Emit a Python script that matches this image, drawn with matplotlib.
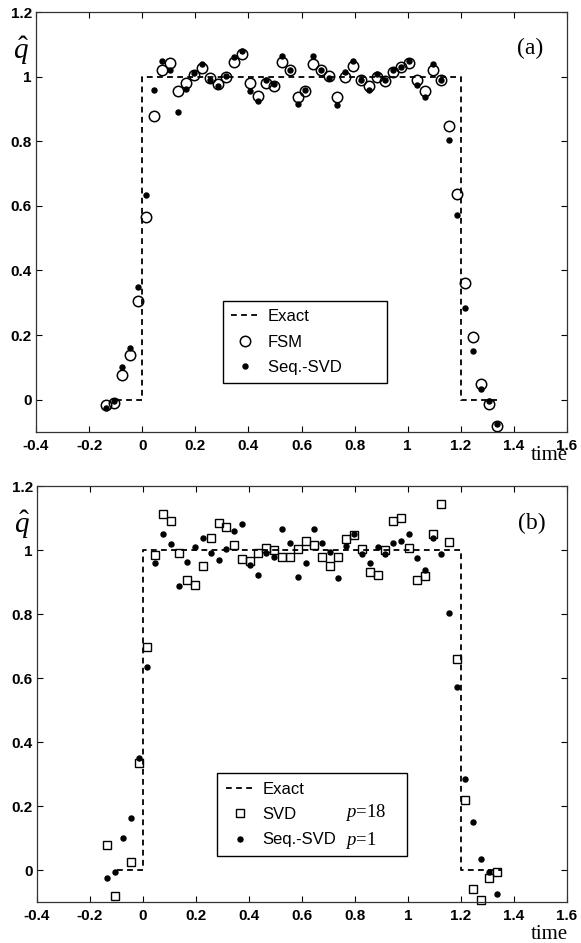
import numpy as np
import matplotlib
matplotlib.use("Agg")
import matplotlib.pyplot as plt
from matplotlib.lines import Line2D

plt.rcParams['font.family'] = ['Liberation Sans', 'DejaVu Sans']
plt.rcParams['mathtext.fontset'] = 'custom'
plt.rcParams['mathtext.rm'] = 'Liberation Serif'
plt.rcParams['mathtext.it'] = 'Liberation Serif:italic'

# ---- data ----
time = [-0.135, -0.105, -0.075, -0.045, -0.015, 0.015, 0.045, 0.075, 0.105, 0.135,
        0.165, 0.195, 0.225, 0.255, 0.285, 0.315, 0.345, 0.375, 0.405, 0.435,
        0.465, 0.495, 0.525, 0.555, 0.585, 0.615, 0.645, 0.675, 0.705, 0.735,
        0.765, 0.795, 0.825, 0.855, 0.885, 0.915, 0.945, 0.975, 1.005, 1.035,
        1.065, 1.095, 1.125, 1.155, 1.185, 1.215, 1.245, 1.275, 1.305, 1.335]

fsm = [-0.017, -0.010, 0.076, 0.139, 0.306, 0.564, 0.877, 1.019, 1.042, 0.957,
       0.981, 1.006, 1.027, 0.996, 0.977, 0.998, 1.044, 1.070, 0.979, 0.941,
       0.979, 0.972, 1.044, 1.022, 0.938, 0.957, 1.039, 1.022, 1.003, 0.936,
       1.000, 1.032, 0.991, 0.971, 1.000, 0.985, 1.013, 1.029, 1.042, 0.988,
       0.957, 1.022, 0.988, 0.847, 0.638, 0.360, 0.193, 0.048, -0.013, -0.082]

seq_svd = [-0.026, -0.005, 0.101, 0.161, 0.350, 0.633, 0.959, 1.049, 1.019, 0.889,
           0.962, 1.010, 1.039, 0.990, 0.970, 1.003, 1.060, 1.080, 0.954, 0.923,
           0.991, 0.977, 1.065, 1.022, 0.916, 0.960, 1.065, 1.022, 0.995, 0.913,
           1.013, 1.049, 0.988, 0.959, 1.008, 0.988, 1.022, 1.029, 1.049, 0.975,
           0.938, 1.039, 0.988, 0.804, 0.573, 0.283, 0.151, 0.034, -0.005, -0.074]

svd = [0.079, -0.082, np.nan, 0.024, 0.333, 0.697, 0.983, 1.112, 1.091, 0.990,
       0.907, 0.891, 0.951, 1.038, 1.085, 1.071, 1.016, 0.971, 0.967, 0.990,
       1.007, 1.000, 0.977, 0.977, 1.003, 1.029, 1.016, 0.977, 0.950, 0.979,
       1.033, 1.047, 1.002, 0.932, 0.922, 1.000, 1.091, 1.099, 1.007, 0.907,
       0.919, 1.050, 1.143, 1.024, 0.659, 0.219, -0.059, -0.093, -0.025, -0.005]

exact_t = [-0.1, 0.0, 0.0, 1.2, 1.2, 1.35]
exact_q = [0.0, 0.0, 1.0, 1.0, 0.0, 0.0]

xticks = [-0.4, -0.2, 0, 0.2, 0.4, 0.6, 0.8, 1, 1.2, 1.4, 1.6]
xticklabels = ['-0.4', '-0.2', '0', '0.2', '0.4', '0.6', '0.8', '1', '1.2', '1.4', '1.6']
yticks = [0, 0.2, 0.4, 0.6, 0.8, 1, 1.2]
yticklabels = ['0', '0.2', '0.4', '0.6', '0.8', '1', '1.2']

W, H = 581, 943
fig = plt.figure(figsize=(W / 100, H / 100), dpi=100)

def px_axes(l, t, r, b):
    return fig.add_axes([l / W, 1 - b / H, (r - l) / W, (b - t) / H])

ax1 = px_axes(36, 12, 567, 432)
ax2 = px_axes(37, 486, 567, 902)

dash = dict(color='black', lw=1.3, linestyle=(0, (3.2, 2.4)))

def style(ax, panel, pxy, time_y):
    ax.set_xlim(-0.4, 1.6)
    ax.set_ylim(-0.1, 1.2)
    ax.set_xticks(xticks)
    ax.set_xticklabels(xticklabels, fontsize=11, fontweight='bold')
    ax.set_yticks(yticks)
    ax.set_yticklabels(yticklabels, fontsize=11, fontweight='bold')
    ax.tick_params(direction='in', length=4, width=0.8, top=True, right=True)
    ax.tick_params(axis='x', pad=5)
    ax.tick_params(axis='y', pad=3)
    for s in ax.spines.values():
        s.set_linewidth(0.9)
        s.set_color('#333333')
    ax.text(pxy[0], pxy[1], panel, transform=ax.transAxes, fontsize=17,
            family='Liberation Serif', ha='center', va='center')
    ax.text(-0.457, 1.078, r'$\hat{q}$', fontsize=21, ha='center', va='center',
            clip_on=False)
    ax.text(1.002, time_y, 'time', transform=ax.transAxes, fontsize=15,
            family='Liberation Serif', ha='right', va='top')

leg_kw = dict(loc='lower left', borderaxespad=0, fontsize=12, fancybox=False,
              edgecolor='black', framealpha=1, handlelength=1.7,
              handletextpad=0.5, labelspacing=0.62, borderpad=0.5)

# panel (a)
ax1.plot(exact_t, exact_q, **dash)
ax1.plot(time, fsm, 'o', mfc='none', mec='black', mew=1.1, ms=7.5, clip_on=False)
ax1.plot(time, seq_svd, 'o', color='black', ms=3.6, clip_on=False)
style(ax1, '(a)', (0.93, 0.914), -0.033)
h1 = [Line2D([], [], **dash),
      Line2D([], [], marker='o', ls='none', mfc='none', mec='black', mew=1.1, ms=7.5),
      Line2D([], [], marker='o', ls='none', color='black', ms=3.6)]
leg1 = ax1.legend(h1, ['Exact', 'FSM', 'Seq.-SVD        '],
                  bbox_to_anchor=(0.352, 0.116), **leg_kw)
leg1.get_frame().set_linewidth(1.0)

# panel (b)
ax2.plot(exact_t, exact_q, **dash)
ax2.plot(time, svd, 's', mfc='none', mec='black', mew=1.0, ms=5.6, clip_on=False)
ax2.plot(time, seq_svd, 'o', color='black', ms=3.6, clip_on=False)
style(ax2, '(b)', (0.933, 0.911), -0.055)
blank = Line2D([], [], ls='none')
h2 = [Line2D([], [], **dash),
      Line2D([], [], marker='s', ls='none', mfc='none', mec='black', mew=1.0, ms=5.6),
      Line2D([], [], marker='o', ls='none', color='black', ms=3.6),
      blank, blank, blank]
labels2 = ['Exact', 'SVD', 'Seq.-SVD', '', '', '']
leg2 = ax2.legend(h2, labels2, ncol=2, columnspacing=1.55,
                  bbox_to_anchor=(0.34, 0.111), **leg_kw)
leg2.get_frame().set_linewidth(1.0)
ax2.text(0.581, 0.214, r'$p$=18', transform=ax2.transAxes, fontsize=13.5,
         family='Liberation Serif', ha='left', va='center', zorder=10)
ax2.text(0.581, 0.149, r'$p$=1', transform=ax2.transAxes, fontsize=13.5,
         family='Liberation Serif', ha='left', va='center', zorder=10)

fig.savefig('out.png', dpi=100)
